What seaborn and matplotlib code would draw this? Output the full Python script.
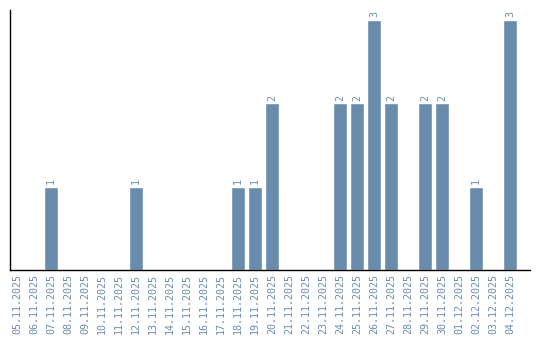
import matplotlib
matplotlib.use("Agg")
import matplotlib.pyplot as plt
import seaborn as sns
import pandas as pd

dates = ["05.11.2025","06.11.2025","07.11.2025","08.11.2025","09.11.2025","10.11.2025",
         "11.11.2025","12.11.2025","13.11.2025","14.11.2025","15.11.2025","16.11.2025",
         "17.11.2025","18.11.2025","19.11.2025","20.11.2025","21.11.2025","22.11.2025",
         "23.11.2025","24.11.2025","25.11.2025","26.11.2025","27.11.2025","28.11.2025",
         "29.11.2025","30.11.2025","01.12.2025","02.12.2025","03.12.2025","04.12.2025"]
counts = [0,0,1,0,0,0,0,1,0,0,0,0,0,1,1,2,0,0,0,2,2,3,2,0,2,2,0,1,0,3]

color = "#6a8cac"
sns.set_theme(style="white")
plt.rcParams['font.family'] = ['DejaVu Sans Mono', 'DejaVu Sans']

df = pd.DataFrame({"date": dates, "count": counts})
fig = plt.figure(figsize=(5.4, 3.4), dpi=100)
ax = fig.add_axes([10/540, 70/340, 520/540, 260/340])
sns.barplot(data=df, x="date", y="count", color=color, width=0.82, saturation=1, ax=ax)
ax.set_xlim(-0.41, 30.17)
ax.set_ylim(0, 3.12)
ax.set_xlabel("")
ax.set_ylabel("")
ax.set_yticks([])
ax.tick_params(axis="x", length=0, pad=3, labelsize=7.2, labelcolor=color, rotation=90)
for s in ["top", "right"]:
    ax.spines[s].set_visible(False)
for s in ["left", "bottom"]:
    ax.spines[s].set_color("black")
    ax.spines[s].set_linewidth(1)
for i, v in enumerate(counts):
    if v > 0:
        ax.annotate(str(v), (i, v), xytext=(0, 2), textcoords="offset points",
                    ha="center", va="bottom", rotation=90, fontsize=7.2, color=color)
fig.savefig("out.png", dpi=100)
